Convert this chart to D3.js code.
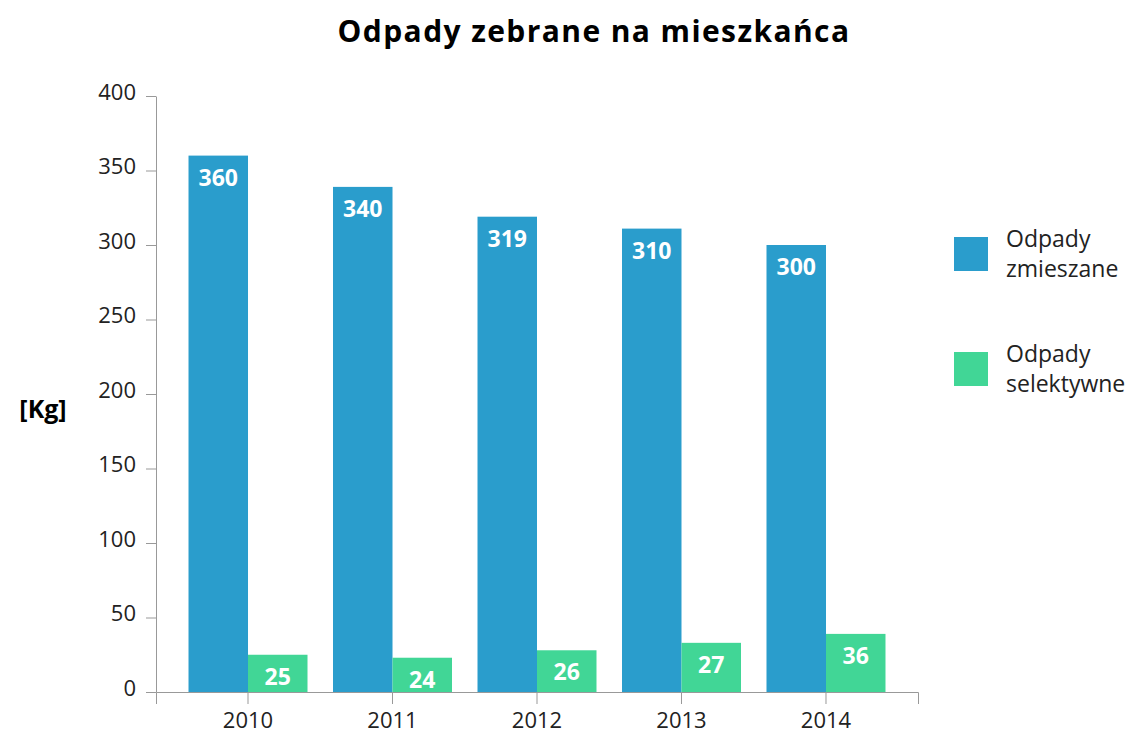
<!DOCTYPE html>
<html>
<head>
<meta charset="utf-8">
<script src="https://cdn.jsdelivr.net/npm/d3@7"></script>
<style>
  body { margin: 0; background: #fff; }
  svg { font-family: "Open Sans", "Noto Sans", sans-serif; }
  .axis path, .axis line { stroke: #999; }
  .axis text { fill: #222; font-size: 22px; font-family: "Open Sans", "Noto Sans", sans-serif; }
</style>
</head>
<body>
<div id="chart"></div>
<script>
// data
const years = ["2010", "2011", "2012", "2013", "2014"];
const mixedValues = [360, 339, 319, 311, 300];
const mixedLabels = ["360", "340", "319", "310", "300"];
const selectiveValues = [25, 23, 28, 33, 39];
const selectiveLabels = ["25", "24", "26", "27", "36"];
const yTicks = [0, 50, 100, 150, 200, 250, 300, 350, 400];
const seriesNames = [["Odpady", "zmieszane"], ["Odpady", "selektywne"]];
const colors = ["#2a9dcc", "#41d696"];

const width = 1135, height = 736;
const margin = { top: 96, right: 217, bottom: 44, left: 156 };

const svg = d3.select("#chart").append("svg")
  .attr("width", width)
  .attr("height", height);

const x = d3.scaleBand()
  .domain(years)
  .range([margin.left, width - margin.right])
  .paddingInner(0.1765)
  .paddingOuter(0.225);

const x1 = d3.scaleBand()
  .domain([0, 1])
  .range([0, x.bandwidth()]);

const y = d3.scaleLinear()
  .domain([0, 400])
  .range([height - margin.bottom, margin.top]);

// title
svg.append("text")
  .attr("x", 594)
  .attr("y", 42)
  .attr("text-anchor", "middle")
  .style("font-size", "30px")
  .style("font-weight", "bold")
  .style("letter-spacing", "1.4px")
  .text("Odpady zebrane na mieszkańca");

// axes
svg.append("g")
  .attr("class", "axis")
  .attr("transform", `translate(${margin.left},0)`)
  .call(d3.axisLeft(y).tickValues(yTicks).tickSize(10).tickSizeOuter(0).tickPadding(10))
  .call(g => g.selectAll("text").attr("dy", "0.15em"));

svg.append("g")
  .attr("class", "axis")
  .attr("transform", `translate(0,${height - margin.bottom})`)
  .call(d3.axisBottom(x).tickSize(12).tickSizeOuter(12).tickPadding(8));

// y label
svg.append("text")
  .attr("x", 43)
  .attr("y", 418)
  .attr("text-anchor", "middle")
  .style("font-size", "25px")
  .style("font-weight", "bold")
  .text("[Kg]");

const series = [
  { values: mixedValues, labels: mixedLabels },
  { values: selectiveValues, labels: selectiveLabels }
];

series.forEach((s, i) => {
  const g = svg.append("g");
  g.selectAll("rect")
    .data(years)
    .enter().append("rect")
      .attr("x", d => x(d) + x1(i))
      .attr("y", (d, j) => y(s.values[j]))
      .attr("width", x1.bandwidth())
      .attr("height", (d, j) => y(0) - y(s.values[j]))
      .attr("fill", colors[i]);
  g.selectAll("text")
    .data(years)
    .enter().append("text")
      .attr("x", d => x(d) + x1(i) + x1.bandwidth() / 2)
      .attr("y", (d, j) => y(s.values[j]) + 30)
      .attr("text-anchor", "middle")
      .attr("fill", "#fff")
      .style("font-size", "23px")
      .style("font-weight", "bold")
      .text((d, j) => s.labels[j]);
});

// legend
const legend = svg.append("g");
seriesNames.forEach((name, i) => {
  const top = 237 + i * 115;
  legend.append("rect")
    .attr("x", 954)
    .attr("y", top)
    .attr("width", 34)
    .attr("height", 34)
    .attr("fill", colors[i]);
  const t = legend.append("text")
    .attr("x", 1006)
    .attr("y", top + 10)
    .style("font-size", "23px")
    .attr("fill", "#222");
  name.forEach((line, k) => {
    t.append("tspan")
      .attr("x", 1006)
      .attr("dy", k === 0 ? 0 : 30)
      .text(line);
  });
});
</script>
</body>
</html>
